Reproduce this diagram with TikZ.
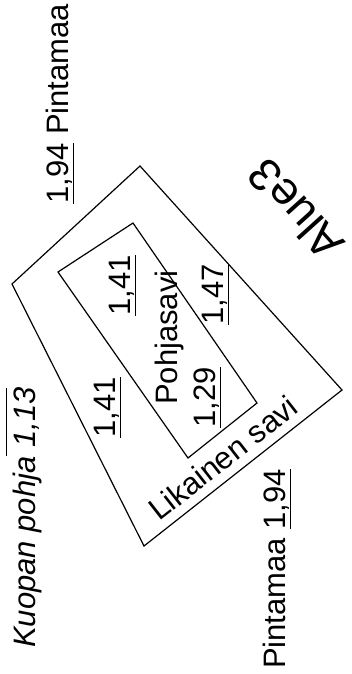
\documentclass[tikz,border=0pt]{standalone}
\usepackage{fontspec}
\setmainfont{Liberation Sans}
\usepackage{tikz}

\newcommand{\alaviiva}[1]{\vtop{\hbox{#1}\kern1.5pt\hrule height 1pt}}
\newcommand{\yliviiva}[1]{\vbox{\hrule height 1pt\kern6pt\hbox{#1}}}

\begin{document}
\begin{tikzpicture}[x=1pt, y=-1pt,
	merkki/.style={inner sep=0pt, anchor=base west, font=\fontsize{31}{36}\selectfont},
	pysty/.style={merkki, rotate=90},
	raja/.style={draw=black, line width=1.2pt, line join=miter}]
	
	\useasboundingbox (0,0) rectangle (351,674);
	
	% Likainen savi
	\coordinate (uy) at (140,166);
	\coordinate (uv) at (12,284);
	\coordinate (ua) at (144,546);
	\coordinate (uo) at (342,390);
	% Pohjasavi
	\coordinate (sy) at (133,223);
	\coordinate (sv) at (58,272);
	\coordinate (sa) at (188,458);
	\coordinate (so) at (257,403);
	
	\draw[raja] (uy) -- (uv) -- (ua) -- (uo) -- cycle;
	\draw[raja] (sy) -- (sv) -- (sa) -- (so) -- cycle;
	
	\node[pysty] (py) at (68,204) {\alaviiva{1,94} Pintamaa};
	\node[pysty] (kp) at (35,648) {\itshape Kuopan pohja\yliviiva{\ 1,13}};
	\node[pysty] (pa) at (285,669) {Pintamaa \alaviiva{1,94}};
	
	\node[pysty] (v1) at (115,438) {\alaviiva{1,41}};
	\node[pysty] (v2) at (130,316) {\alaviiva{1,41}};
	\node[pysty] (ps) at (177,405) {Pohjasavi};
	\node[pysty] (v3) at (215,428) {\alaviiva{1,29}};
	\node[pysty] (v4) at (223,325) {\alaviiva{1,47}};
	
	\node[merkki, rotate=38] (ls) at (159,522) {Likainen savi};
	\node[merkki, rotate=132, font=\fontsize{46}{52}\selectfont] (al) at (347,243) {Alue3};
	
\end{tikzpicture}
\end{document}
